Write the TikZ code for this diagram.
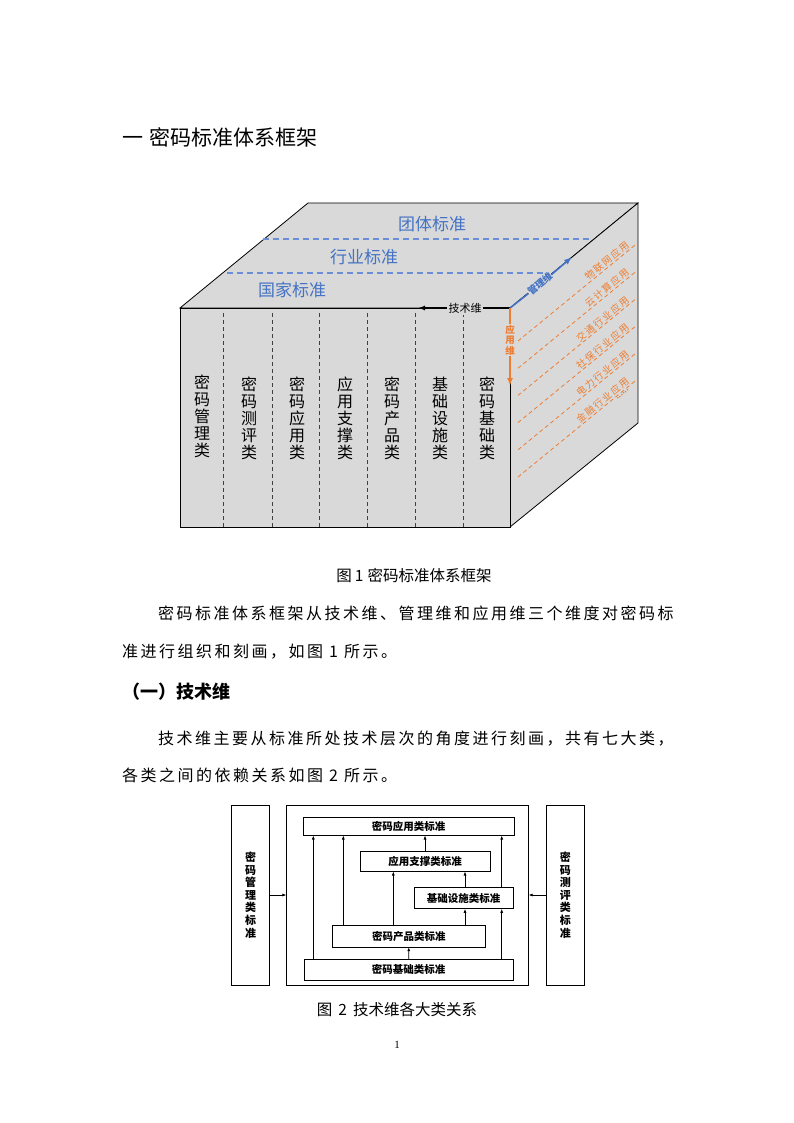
\documentclass[tikz,border=0pt]{standalone}
\usepackage{fontspec}
\setmainfont{Liberation Serif}
\newfontfamily\cjk{Noto Sans CJK SC}
\newfontfamily\cjkbody[LetterSpace=15.6]{Noto Sans CJK SC}
\newfontfamily\cjkside[LetterSpace=16]{Noto Sans CJK SC}
\usetikzlibrary{arrows.meta}
\definecolor{facegray}{HTML}{D9D9D9}
\definecolor{stdblue}{HTML}{4472C4}
\definecolor{dashblue}{HTML}{6A8FD6}
\definecolor{apporange}{HTML}{ED7D31}

\begin{document}
\begin{tikzpicture}[x=1pt,y=-1pt,>=Latex,
  face/.style={fill=facegray,draw=black,line width=0.8pt},
  stdline/.style={dashblue,line width=1.1pt,dash pattern=on 6pt off 4pt},
  stdname/.style={stdblue,font=\cjk\fontsize{17}{17}\selectfont},
  coldash/.style={black!75,line width=0.8pt,dash pattern=on 4pt off 3pt},
  colname/.style={align=center,inner sep=0pt,font=\cjk\fontsize{16}{17}\selectfont},
  appline/.style={apporange,line width=0.8pt,dash pattern=on 4pt off 3pt},
  appname/.style={apporange,sloped,inner sep=0.8pt,font=\cjkside\fontsize{9.5}{10}\selectfont},
  bodyline/.style={anchor=west,inner sep=0pt,font=\cjkbody\fontsize{16}{16}\selectfont},
  capline/.style={inner sep=0pt,font=\cjk\fontsize{15.5}{15.5}\selectfont},
  stdbox/.style={draw,line width=0.7pt,inner sep=0pt,font=\cjk\bfseries\fontsize{10.5}{12}\selectfont},
  sidebox/.style={stdbox,align=center,minimum width=37.5pt,minimum height=180pt,
    font=\cjk\bfseries\fontsize{11}{12.6}\selectfont},
  dep/.style={-{Latex[length=4pt,width=3pt]},line width=0.7pt}]
  \useasboundingbox (0,0) rectangle (794,1123);

  % page text
  \node[anchor=west,inner sep=0pt,font=\cjk\fontsize{21}{21}\selectfont] (title) at (122,137)
    {一\hspace{6pt}密码标准体系框架};

  % the cube
  \coordinate (ftl) at (180,308);
  \coordinate (ftr) at (510,308);
  \coordinate (fbr) at (510,527);
  \coordinate (btl) at (308,203);
  \coordinate (btr) at (638,203);
  \coordinate (bbr) at (638,423);
  \draw[face] (ftl) -- (btl) -- (btr) -- (ftr) -- cycle;
  \draw[face] (ftr) -- (btr) -- (bbr) -- (fbr) -- cycle;
  \draw[face] (ftl) rectangle (fbr);

  % levels on top
  \draw[stdline] (227,273) -- (545,273);
  \draw[stdline] (263,239) -- (592,239);
  \node[stdname] (national) at (292,290) {国家标准};
  \node[stdname] (industry) at (364,257) {行业标准};
  \node[stdname] (group) at (432,224) {团体标准};

  % columns in front
  \foreach \x in {223,272,319,367,415,463}
    \draw[coldash] (\x,313) -- (\x,527);
  \node[colname] (col1) at (202,416) {密\\码\\管\\理\\类};
  \node[colname] (col2) at (249,418) {密\\码\\测\\评\\类};
  \node[colname] (col3) at (297,418) {密\\码\\应\\用\\类};
  \node[colname] (col4) at (345,418) {应\\用\\支\\撑\\类};
  \node[colname] (col5) at (392,418) {密\\码\\产\\品\\类};
  \node[colname] (col6) at (440,418) {基\\础\\设\\施\\类};
  \node[colname] (col7) at (487,418) {密\\码\\基\\础\\类};

  % applications on the side
  \foreach \i/\t in {1/物联网应用,2/云计算应用,3/交通行业应用,4/社保行业应用,5/电力行业应用,6/金融行业应用}
    \draw[appline] (518,{341+27.2*(\i-1)}) -- ++(120,-98.4)
      node[appname,pos=.95,anchor=south east] (app\i) {\t};
  \path (518,477) -- ++(120,-98.4)
    node[apporange,sloped,pos=.86,below,inner sep=1.5pt,font=\bfseries\fontsize{10}{10}\selectfont] (appmore) {......};

  % the three dimensions
  \node[fill=facegray,inner sep=1.5pt,font=\cjk\fontsize{11}{11}\selectfont] (techdim) at (465,308) {技术维};
  \coordinate (techend) at (418,308);
  \draw[-{Latex[length=7pt,width=5pt]},line width=1.6pt] (techdim.west) -- (techend);
  \draw[line width=1.6pt] (techdim.east) -- (ftr);

  \node[fill=facegray,inner sep=0.5pt,rotate=39.4,text=stdblue,
    font=\cjk\bfseries\fontsize{9.5}{9.5}\selectfont] (mgmtdim) at (540,284) {管理维};
  \coordinate (mgmtend) at (572,257);
  \draw[stdblue,line width=1.6pt] (ftr) -- (mgmtdim.west);
  \draw[stdblue,line width=1.6pt,-{Latex[length=8pt,width=6pt]}] (mgmtdim.east) -- (mgmtend);

  \node[fill=facegray,inner sep=1pt,align=center,text=apporange,
    font=\cjk\bfseries\fontsize{9.5}{10.5}\selectfont] (appdim) at (510,340) {应\\用\\维};
  \coordinate (append) at (510,386);
  \draw[apporange,line width=1.6pt] (ftr) -- (appdim.north);
  \draw[apporange,line width=1.6pt,-{Latex[length=8pt,width=6pt]}] (appdim.south) -- (append);

  \node[capline] (cap1) at (414,576) {图\hspace{3pt}1\hspace{4pt}密码标准体系框架};
  \node[bodyline] (para1a) at (158,613) {密码标准体系框架从技术维、管理维和应用维三个维度对密码标};
  \node[bodyline] (para1b) at (122,652) {准进行组织和刻画，如图 1 所示。};
  \node[anchor=west,inner sep=0pt,font=\cjk\bfseries\fontsize{18}{18}\selectfont] (sec1) at (122,692) {（一）技术维};
  \node[bodyline] (para2a) at (158,739) {技术维主要从标准所处技术层次的角度进行刻画，共有七大类，};
  \node[bodyline] (para2b) at (122,775) {各类之间的依赖关系如图 2 所示。};

  % figure 2
  \node[sidebox] (mgmt) at (250.5,895) {密\\码\\管\\理\\类\\标\\准};
  \node[draw,line width=0.7pt,minimum width=241.6pt,minimum height=180pt] (frame) at (407.5,895) {};
  \node[sidebox] (eval) at (565.3,895) {密\\码\\测\\评\\类\\标\\准};
  \node[stdbox,minimum width=210.7pt,minimum height=18.3pt] (appstd) at (408.7,826) {密码应用类标准};
  \node[stdbox,minimum width=130pt,minimum height=20.3pt] (support) at (425,861) {应用支撑类标准};
  \node[stdbox,minimum width=99.3pt,minimum height=21pt] (infra) at (463.7,898) {基础设施类标准};
  \node[stdbox,minimum width=152.3pt,minimum height=21.7pt] (product) at (408.8,936) {密码产品类标准};
  \node[stdbox,minimum width=209.3pt,minimum height=20.7pt] (base) at (408.7,969.7) {密码基础类标准};

  \draw[dep] (mgmt) -- (frame);
  \draw[dep] (eval) -- (frame);
  \draw[dep] ([xshift=-95.4pt]base.north) -- ([xshift=-95.4pt]base.north |- appstd.south);
  \draw[dep] ([xshift=93pt]base.north) -- ([xshift=93pt]base.north |- infra.south);
  \draw[dep] (base) -- (product);
  \draw[dep] ([xshift=-65.5pt]product.north) -- ([xshift=-65.5pt]product.north |- appstd.south);
  \draw[dep] ([xshift=-15.5pt]product.north) -- ([xshift=-15.5pt]product.north |- support.south);
  \draw[dep] ([xshift=56.2pt]product.north) -- ([xshift=56.2pt]product.north |- infra.south);
  \draw[dep] ([xshift=1.3pt]infra.north) -- ([xshift=1.3pt]infra.north |- support.south);
  \draw[dep] ([xshift=38pt]infra.north) -- ([xshift=38pt]infra.north |- appstd.south);
  \draw[dep] (support.north) -- (support.north |- appstd.south);

  \node[capline] (cap2) at (397,1010) {图\hspace{6pt}2\hspace{6pt}技术维各大类关系};
  \node[font=\fontsize{11}{11}\selectfont] (pageno) at (397,1045) {1};
\end{tikzpicture}
\end{document}
